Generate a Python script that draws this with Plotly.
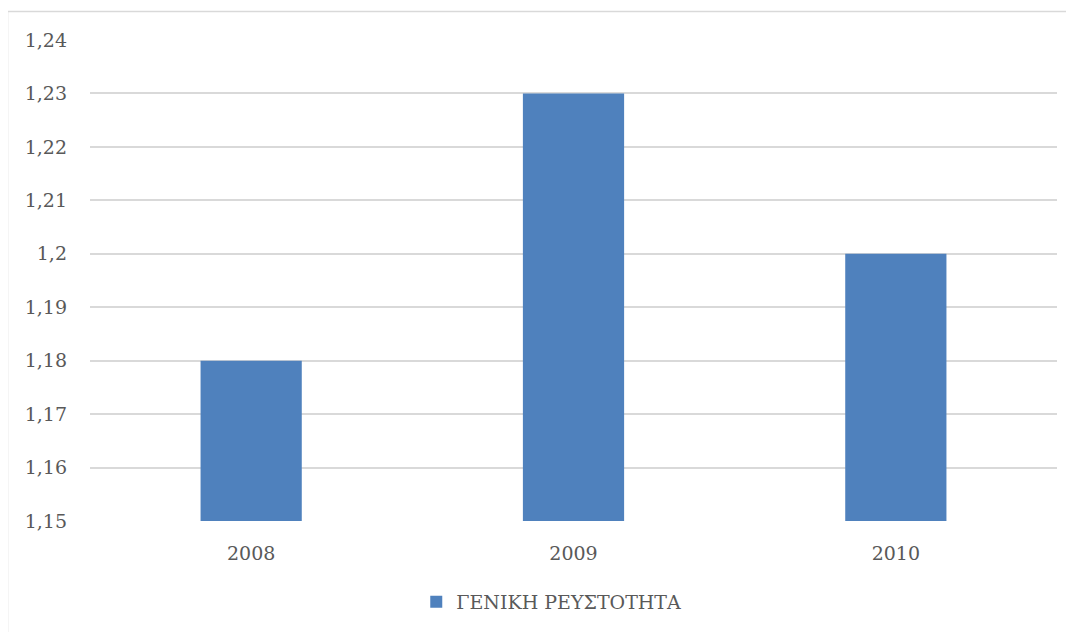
import plotly.graph_objects as go

years = ["2008", "2009", "2010"]
values = [1.18, 1.23, 1.20]
series_name = "ΓΕΝΙΚΗ ΡΕΥΣΤΟΤΗΤΑ"
tick_vals = [1.15, 1.16, 1.17, 1.18, 1.19, 1.20, 1.21, 1.22, 1.23, 1.24]
tick_text = ["1,15", "1,16", "1,17", "1,18", "1,19", "1,2", "1,21", "1,22", "1,23", "1,24"]

FONT = "DejaVu Serif"
TXT = "#595959"

fig = go.Figure()
fig.add_trace(go.Bar(x=years, y=values, name=series_name,
                     marker=dict(color="#4f81bd", line=dict(width=0)),
                     showlegend=True))

fig.update_layout(
    width=1066, height=624,
    margin=dict(l=82, r=17, t=32, b=110),
    paper_bgcolor="white", plot_bgcolor="white",
    bargap=0.686,
    separators=",.",
    font=dict(family=FONT, size=19, color=TXT),
    showlegend=True,
    legend=dict(orientation="h", x=0.477, xanchor="center", y=-0.166, yanchor="middle",
                font=dict(family=FONT, size=19, color=TXT), itemwidth=30),
    xaxis=dict(showgrid=False, showline=False, ticks="", ticklabelstandoff=19,
               tickfont=dict(family=FONT, size=19, color=TXT)),
    yaxis=dict(range=[1.15, 1.24], tickvals=tick_vals, ticktext=tick_text,
               showgrid=True, gridcolor="#d9d9d9", gridwidth=1.5,
               zeroline=False, showline=False, ticks="", ticklabelstandoff=22,
               tickfont=dict(family=FONT, size=19, color=TXT)),
    shapes=[dict(type="rect", xref="paper", yref="paper",
                 x0=-0.0853, x1=1.03, y0=-0.3, y1=1.0591,
                 line=dict(color="#d9d9d9", width=1.5), fillcolor="rgba(0,0,0,0)", layer="below")],
)

fig.write_html("out.html")
